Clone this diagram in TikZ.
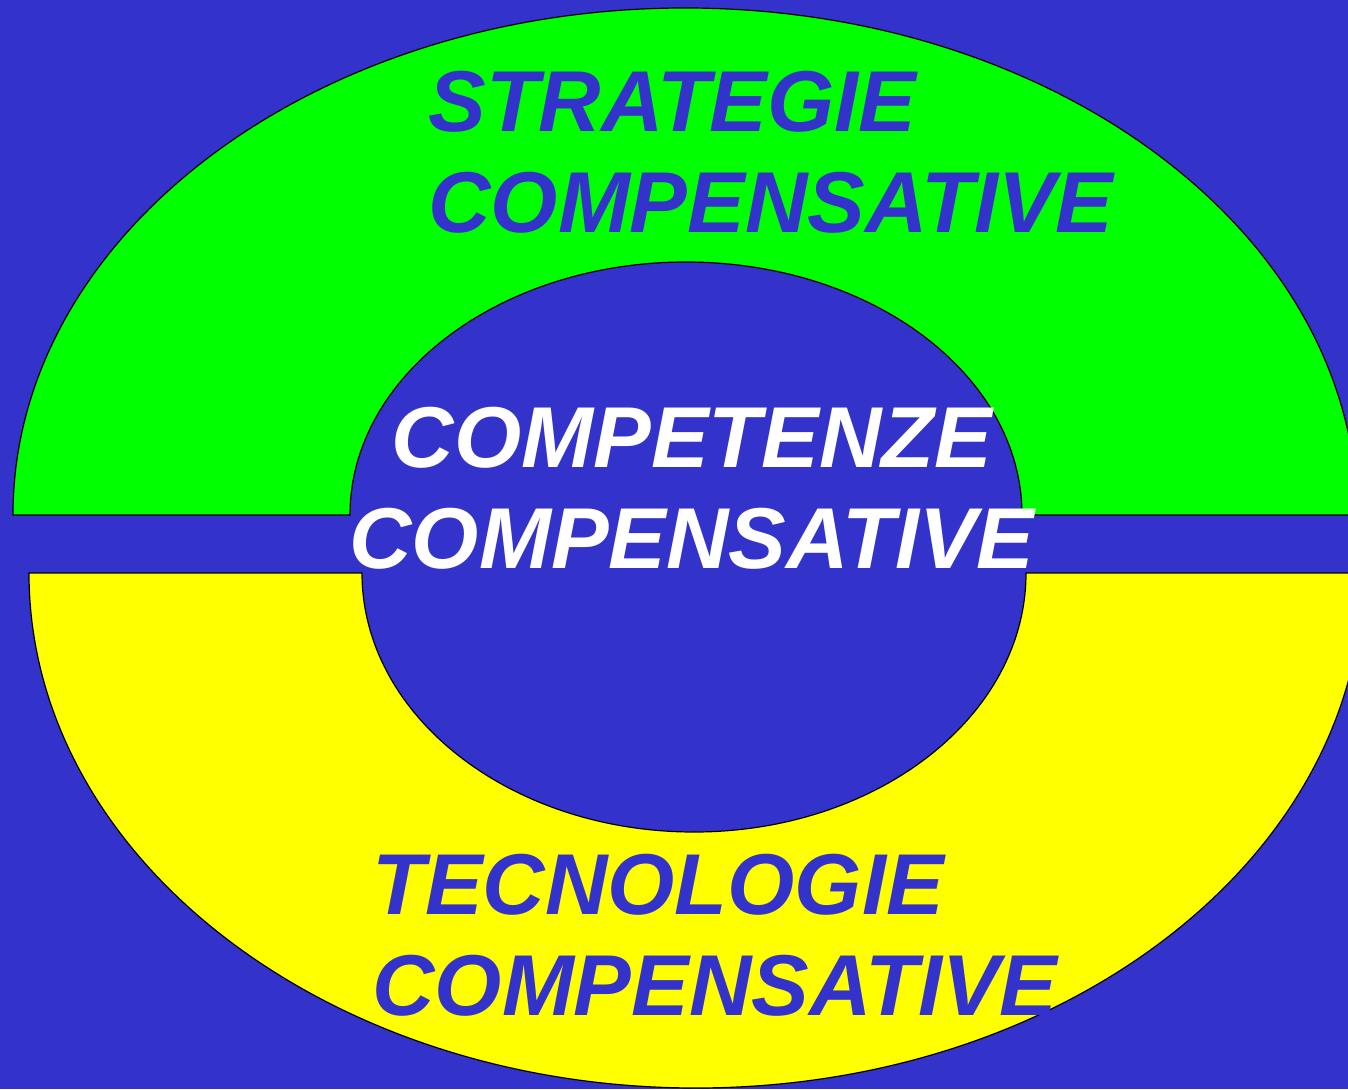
\documentclass[tikz,border=0pt]{standalone}
\usepackage{fontspec}
\setmainfont{Liberation Sans}
\usepackage{xcolor}
\usepackage{tikz}
\usetikzlibrary{positioning}
\definecolor{fondo}{HTML}{3333CC}
\definecolor{verde}{HTML}{00FF00}
\definecolor{giallo}{HTML}{FFFF00}
\newcommand{\grande}{\fontsize{43.2}{50.5}\selectfont\bfseries\itshape}

\begin{document}
\begin{tikzpicture}[x=0.5pt, y=0.5pt, every node/.style={inner sep=0pt, font=\grande},
  anello/.style={draw=black, line width=0.6pt}]
\useasboundingbox (0,0) rectangle (1348,1089);
\clip (0,0) rectangle (1348,1089);
\fill [fondo] (0,0) rectangle (1348,1089);

\filldraw [anello, fill=verde] (13,574) arc [start angle=180, end angle=0, x radius=672, y radius=507]
  -- (1022,574) arc [start angle=0, end angle=180, x radius=336, y radius=253] -- cycle;
\filldraw [anello, fill=giallo] (29,516) arc [start angle=180, end angle=360, x radius=667, y radius=515]
  -- (1026,516) arc [start angle=360, end angle=180, x radius=332, y radius=259] -- cycle;

\node [align=left, anchor=base west, text=fondo] (strategie) at (428,856) {STRATEGIE\\COMPENSATIVE};
\node [align=center, anchor=base, text=white] (competenze) at (692,521) {COMPETENZE\\COMPENSATIVE};
\node [align=left, anchor=base west, text=fondo] (tecnologie) at (372,74) {TECNOLOGIE\\COMPENSATIVE};
\end{tikzpicture}
\end{document}
